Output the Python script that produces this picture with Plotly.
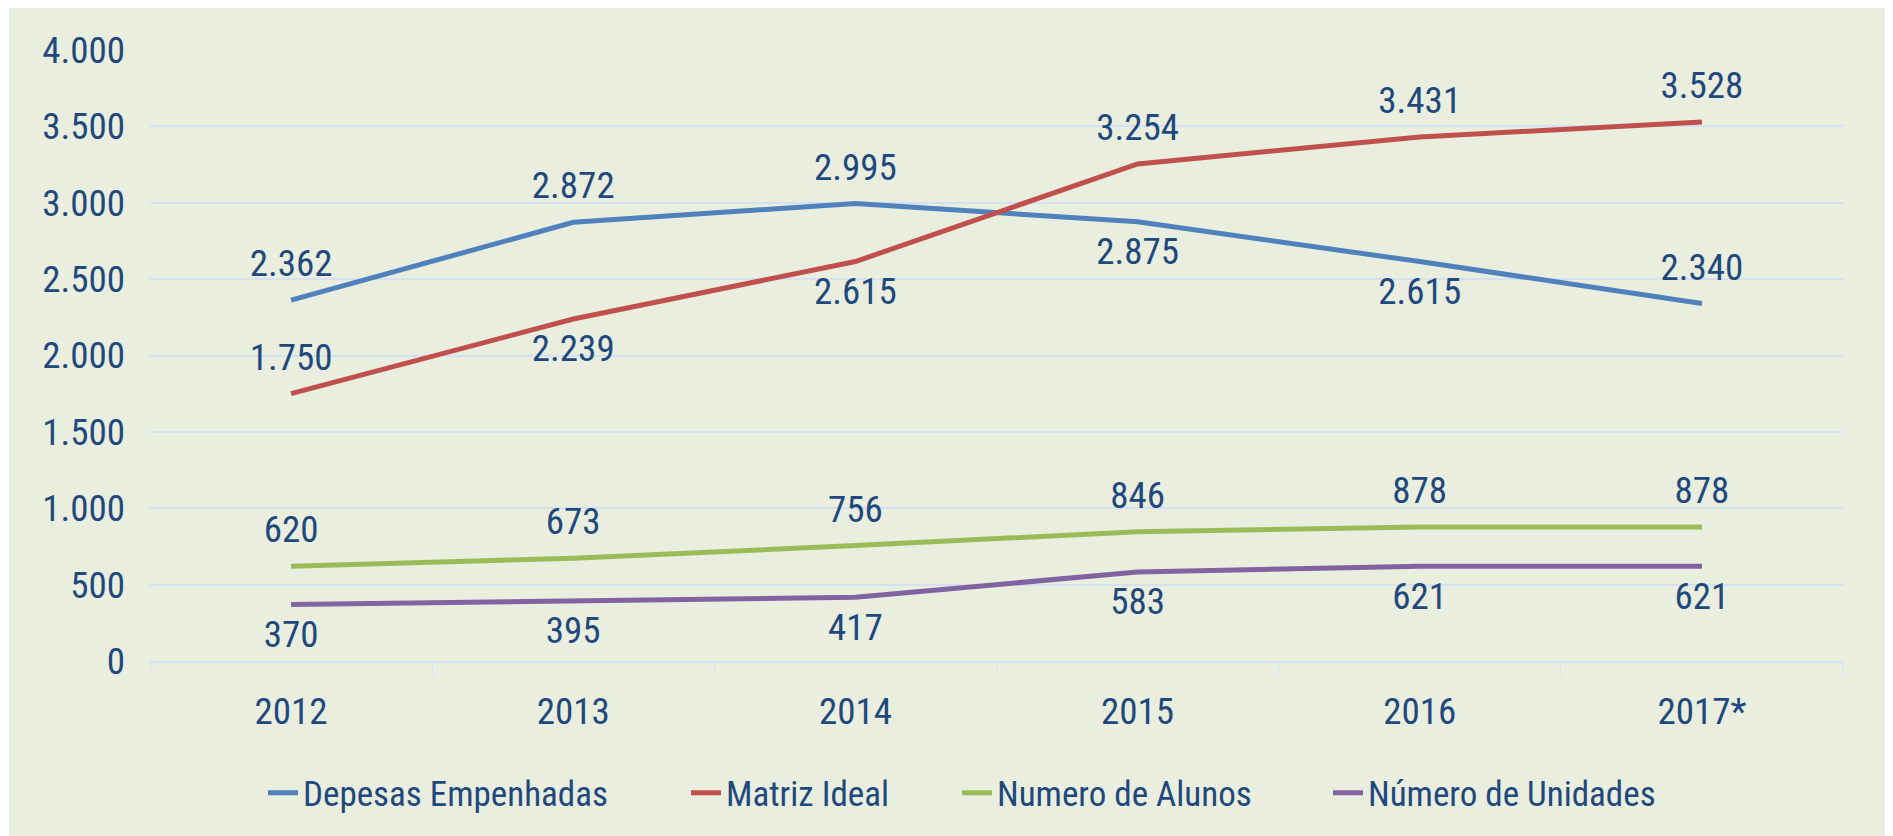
import plotly.graph_objects as go

years = ["2012", "2013", "2014", "2015", "2016", "2017*"]
depesas = [2362, 2872, 2995, 2875, 2615, 2340]
matriz = [1750, 2239, 2615, 3254, 3431, 3528]
alunos = [620, 673, 756, 846, 878, 878]
unidades = [370, 395, 417, 583, 621, 621]

names = ["Depesas Empenhadas", "Matriz Ideal", "Numero de Alunos", "Número de Unidades"]
colors = ["#4F81BD", "#C0504D", "#9BBB59", "#8064A2"]
positions = [
    ["top center", "top center", "top center", "bottom center", "bottom center", "top center"],
    ["top center", "bottom center", "bottom center", "top center", "top center", "top center"],
    ["top center"] * 6,
    ["bottom center"] * 6,
]
legend_ids = ["legend", "legend2", "legend3", "legend4"]
legend_text_x = [304, 727, 998, 1369]   # page px where legend text starts

FONT = "Liberation Sans Narrow, Arial Narrow, Roboto Condensed, sans-serif"
TXT = "#1F497D"
GRID = "#D5E1F2"

fig = go.Figure()
for name, vals, col, pos, lg in zip(names, [depesas, matriz, alunos, unidades], colors, positions, legend_ids):
    fig.add_trace(go.Scatter(
        x=years, y=vals, name=name, mode="lines+markers+text",
        line=dict(color=col, width=5),
        marker=dict(size=22, color="rgba(0,0,0,0)", line=dict(width=0)),
        text=vals, texttemplate="%{y:,d}", textposition=pos,
        textfont=dict(family=FONT, size=37, color=TXT),
        hoverinfo="skip", legend=lg,
    ))

# page has an 8px body margin; figure coordinates = page - 8
OFF = 8
W, H = 1893 - OFF, 836 - OFF
L, T = 150 - OFF, 50 - OFF
PW, PH = 1693, 611
R = W - L - PW
B = H - T - PH

def px_x(x):
    return (x - OFF - L) / PW

def px_y(y):
    return (T + PH - (y - OFF)) / PH

fig.add_shape(type="rect", xref="paper", yref="paper",
              x0=px_x(9), x1=px_x(1886), y0=px_y(840), y1=px_y(7),
              fillcolor="#EAEEDE", line=dict(width=0), layer="below")

legend_common = dict(orientation="h", yanchor="middle", y=px_y(793), xanchor="left",
                     font=dict(family=FONT, size=35, color=TXT), bgcolor="rgba(0,0,0,0)",
                     itemwidth=30)
layout_legends = {}
for lg, tx in zip(legend_ids, legend_text_x):
    layout_legends[lg] = dict(legend_common, x=px_x(tx - 41))

fig.update_layout(
    width=W, height=H,
    margin=dict(l=L, r=R, t=T, b=B, autoexpand=False),
    paper_bgcolor="white",
    plot_bgcolor="rgba(0,0,0,0)",
    separators=",.",
    font=dict(family=FONT, size=37, color=TXT),
    showlegend=True,
    xaxis=dict(
        type="category", showgrid=False, showline=True, linecolor=GRID, linewidth=1.5,
        ticks="outside", tickson="boundaries", ticklen=12, tickcolor=GRID,
        tickfont=dict(family=FONT, size=37, color=TXT), ticklabelstandoff=17,
        zeroline=False, range=[-0.5, 5.5],
    ),
    yaxis=dict(
        range=[0, 4000], dtick=500, tickformat=",d", showgrid=True, gridcolor=GRID,
        gridwidth=1.5, zeroline=False, showline=False, ticks="",
        tickfont=dict(family=FONT, size=37, color=TXT), ticklabelstandoff=24,
    ),
    **layout_legends,
)

fig.write_html("out.html")
